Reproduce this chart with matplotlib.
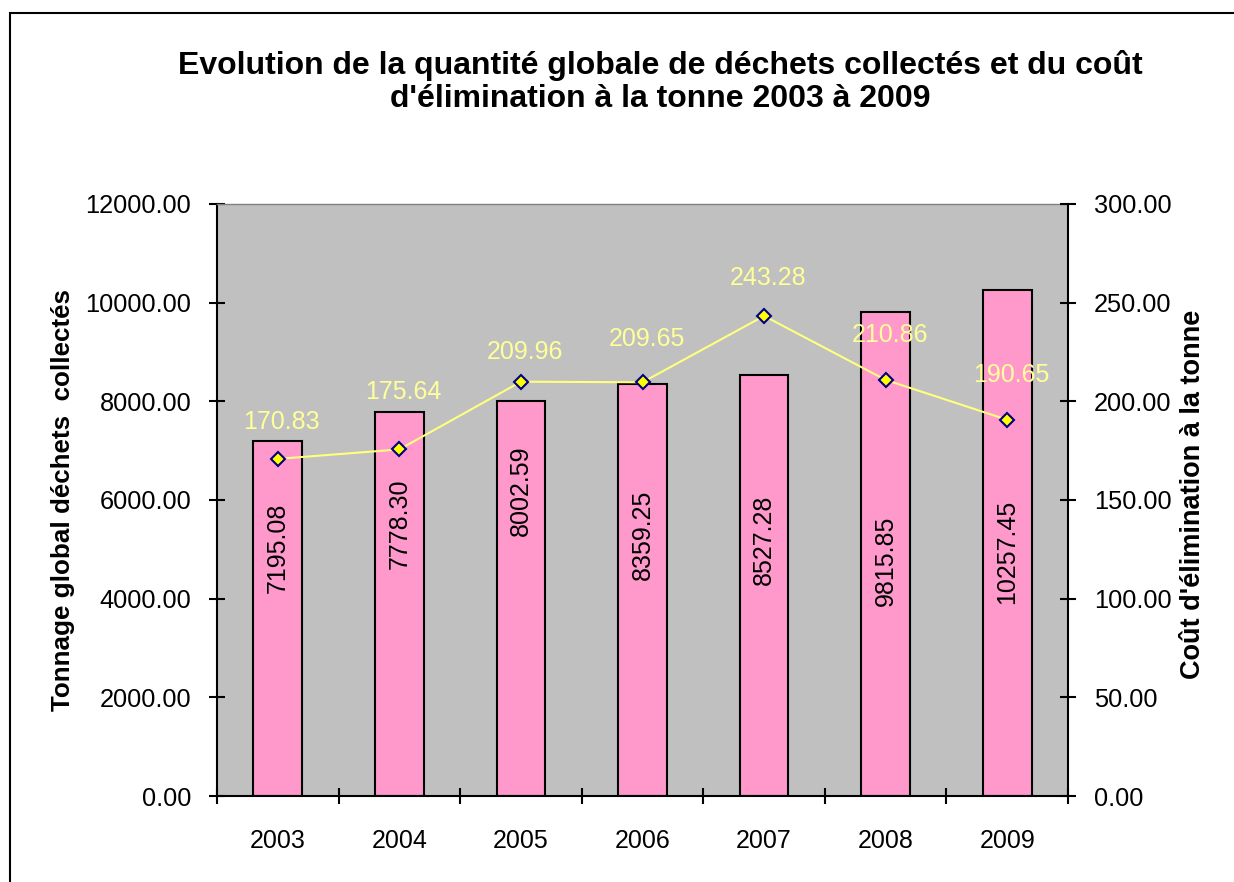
import matplotlib.pyplot as plt
from matplotlib.patches import Rectangle

plt.rcParams['font.family'] = ['Liberation Sans', 'DejaVu Sans']

# data
annees = ['2003', '2004', '2005', '2006', '2007', '2008', '2009']
tonnage = [7195.08, 7778.30, 8002.59, 8359.25, 8527.28, 9815.85, 10257.45]
cout = [170.83, 175.64, 209.96, 209.65, 243.28, 210.86, 190.65]

# where the labels sit (the original has them moved by hand)
pos_lbl_barres = [5040, 5520, 6190, 5300, 5200, 4760, 4940]
decal_lbl_cout = [37, 57, 30, 43, 38, 45, 45]

W, H = 1234, 882
fig = plt.figure(figsize=(W / 100, H / 100), dpi=100)
fig.patch.set_facecolor('white')

# chart border (runs off the right and bottom edges of the picture)
fig.patches.append(Rectangle((10 / W, -0.05), 1.2, 1 - 13 / H + 0.05,
                             transform=fig.transFigure, fill=False,
                             edgecolor='black', linewidth=1.5))

ax = fig.add_axes([217 / W, 1 - 796 / H, (1068 - 217) / W, (796 - 204) / H])
ax.set_facecolor('#C0C0C0')
x = list(range(len(annees)))

ax.bar(x, tonnage, width=0.4, color='#FF99CC', edgecolor='black', linewidth=1.5, zorder=2)
for i, v in enumerate(tonnage):
    ax.text(i, pos_lbl_barres[i], f"{v:.2f}", rotation=90, ha='center', va='center',
            fontsize=18, color='black', zorder=3)

ax.set_xlim(-0.5, len(annees) - 0.5)
ax.set_ylim(0, 12000)
ax.set_yticks(range(0, 12001, 2000))
ax.set_yticklabels([f"{v:.2f}" for v in range(0, 12001, 2000)], fontsize=18.3)
ax.set_xticks(x)
ax.set_xticklabels(annees, fontsize=18)
ax.tick_params(axis='x', which='major', length=0, pad=24)
ax.set_xticks([i - 0.5 for i in range(len(annees) + 1)], minor=True)
ax.tick_params(axis='x', which='minor', direction='inout', length=11, width=1.5)
ax.tick_params(axis='y', direction='inout', length=11, width=1.5, pad=13)

for s in ['left', 'bottom']:
    ax.spines[s].set_linewidth(1.5)
ax.spines['top'].set_color('#808080')
ax.spines['top'].set_linewidth(1)
ax.spines['right'].set_visible(False)

ax.set_ylabel('Tonnage global déchets  collectés', fontsize=18.7, fontweight='bold')
ax.yaxis.set_label_coords(-142 / (1068 - 217), 0.5)

ax2 = ax.twinx()
ax2.set_ylim(0, 300)
ax2.set_yticks(range(0, 301, 50))
ax2.set_yticklabels([f"{v:.2f}" for v in range(0, 301, 50)], fontsize=18.3)
ax2.tick_params(axis='y', direction='inout', length=11, width=1.5, pad=13)
ax2.spines['right'].set_linewidth(1.5)
for s in ['left', 'top', 'bottom']:
    ax2.spines[s].set_visible(False)
ax2.plot(x, cout, color='#FFFF80', linewidth=1.5, marker='D', markersize=7.5,
         markerfacecolor='#FFFF00', markeredgecolor='#000080', markeredgewidth=1.5, zorder=4)
for i, v in enumerate(cout):
    ax2.annotate(f"{v:.2f}", (i, v), xytext=(4, decal_lbl_cout[i]), textcoords='offset pixels',
                 ha='center', va='center', fontsize=18, color='#FFFF99')

ax2.set_ylabel("Coût d'élimination à la tonne", fontsize=19.5, fontweight='bold')
ax2.yaxis.set_label_coords(1 + 112 / (1068 - 217), 0.51)

fig.text(660 / W, 1 - 82 / H,
         "Evolution de la quantité globale de déchets collectés et du coût\n"
         "d'élimination à la tonne 2003 à 2009",
         ha='center', va='center', fontsize=23, fontweight='bold', linespacing=1.1)

fig.savefig('out.png', dpi=100)
